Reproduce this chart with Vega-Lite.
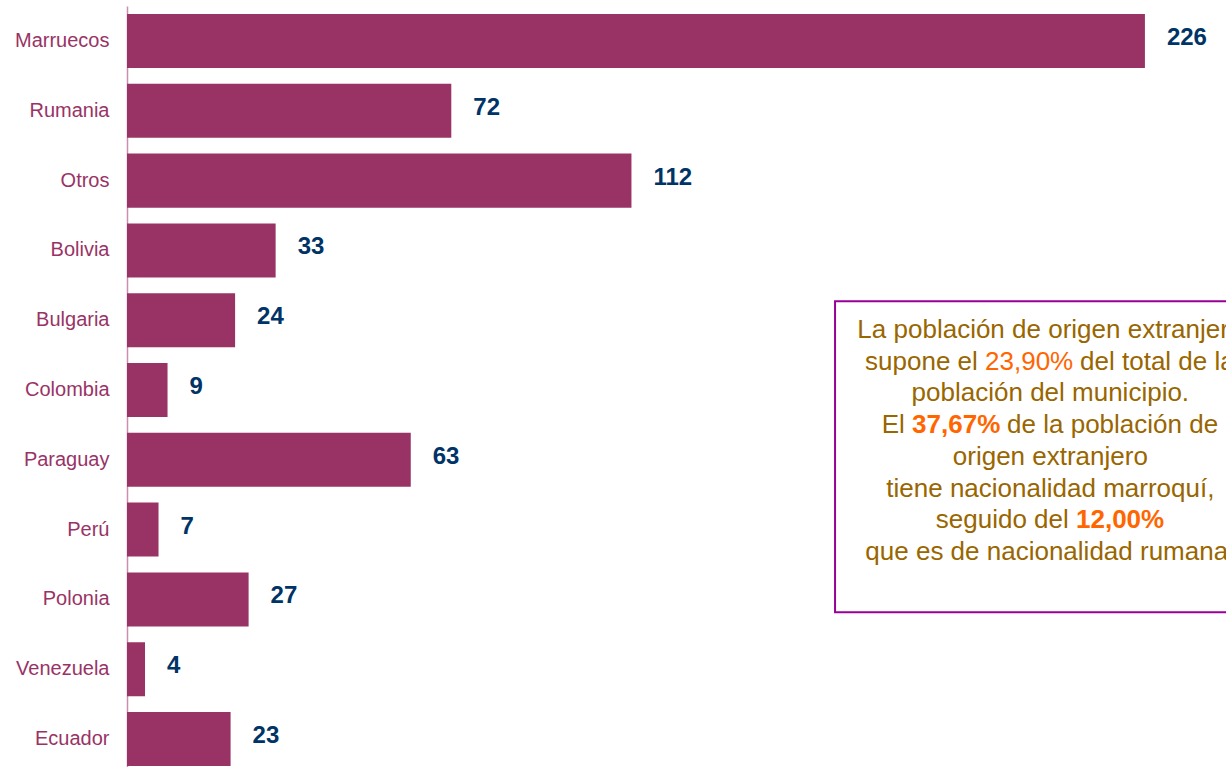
{
  "$schema": "https://vega.github.io/schema/vega-lite/v6.json",
  "autosize": "none",
  "width": 1099,
  "height": 761,
  "padding": {"left": 127, "top": 6, "right": 0, "bottom": 0},
  "background": "white",
  "config": {"view": {"stroke": null}, "font": "Liberation Sans"},
  "datasets": {
    "paises": [
      {"pais": "Marruecos", "valor": 226},
      {"pais": "Rumania", "valor": 72},
      {"pais": "Otros", "valor": 112},
      {"pais": "Bolivia", "valor": 33},
      {"pais": "Bulgaria", "valor": 24},
      {"pais": "Colombia", "valor": 9},
      {"pais": "Paraguay", "valor": 63},
      {"pais": "Perú", "valor": 7},
      {"pais": "Polonia", "valor": 27},
      {"pais": "Venezuela", "valor": 4},
      {"pais": "Ecuador", "valor": 23}
    ],
    "caja": [
      {"x0": 157.2, "x1": 250, "y0": -0.16, "y1": 9.65}
    ],
    "nota": [
      {"linea": 1, "pos": 205, "seg": "c", "txt": "La población de origen extranjero"},
      {"linea": 2, "pos": 188.9, "seg": "r", "txt": "supone el"},
      {"linea": 2, "pos": 190.5, "seg": "o", "txt": "23,90%"},
      {"linea": 2, "pos": 211.6, "seg": "l", "txt": "del total de la"},
      {"linea": 3, "pos": 205, "seg": "c", "txt": "población del municipio."},
      {"linea": 4, "pos": 172.7, "seg": "r", "txt": "El"},
      {"linea": 4, "pos": 174.3, "seg": "b", "txt": "37,67%"},
      {"linea": 4, "pos": 195.4, "seg": "l", "txt": "de la población de"},
      {"linea": 5, "pos": 205, "seg": "c", "txt": "origen extranjero"},
      {"linea": 6, "pos": 205, "seg": "c", "txt": "tiene nacionalidad marroquí,"},
      {"linea": 7, "pos": 209.1, "seg": "r", "txt": "seguido del"},
      {"linea": 7, "pos": 210.7, "seg": "b", "txt": "12,00%"},
      {"linea": 8, "pos": 205, "seg": "c", "txt": "que es de nacionalidad rumana."}
    ]
  },
  "layer": [
    {
      "data": {"name": "paises"},
      "encoding": {
        "y": {
          "field": "pais", "type": "nominal", "sort": null,
          "scale": {"paddingInner": 0.226, "paddingOuter": 0.0645, "align": 0.89},
          "axis": {
            "title": null, "ticks": false, "grid": false,
            "domainColor": "#C98FAE", "domainWidth": 1.5,
            "labelFont": "Liberation Sans", "labelFontSize": 20,
            "labelColor": "#993366", "labelPadding": 18
          }
        },
        "x": {
          "field": "valor", "type": "quantitative",
          "scale": {"domain": [0, 244], "nice": false},
          "axis": null
        }
      },
      "layer": [
        {"mark": {"type": "bar", "color": "#993366"}},
        {
          "mark": {
            "type": "text", "align": "left", "baseline": "middle",
            "dx": 22, "dy": -3, "fontSize": 24, "fontWeight": "bold",
            "color": "#003366", "font": "Liberation Sans"
          },
          "encoding": {"text": {"field": "valor", "type": "quantitative"}}
        }
      ]
    },
    {
      "layer": [
        {
          "data": {"name": "caja"},
          "mark": {"type": "rect", "fill": "white", "stroke": "#990099", "strokeWidth": 2},
          "encoding": {
            "x": {"field": "x0", "type": "quantitative", "scale": {"domain": [0, 244], "nice": false}, "axis": null},
            "x2": {"field": "x1"},
            "y": {"field": "y0", "type": "quantitative", "scale": {"domain": [-9.47, 14.53], "reverse": true, "nice": false, "zero": false}, "axis": null},
            "y2": {"field": "y1"}
          }
        },
        {
          "data": {"name": "nota"},
          "transform": [{"filter": "datum.seg === 'c'"}],
          "mark": {"type": "text", "align": "center", "baseline": "alphabetic", "fontSize": 26, "color": "#996600", "font": "Liberation Sans"},
          "encoding": {
            "x": {"field": "pos", "type": "quantitative", "scale": {"domain": [0, 244], "nice": false}, "axis": null},
            "y": {"field": "linea", "type": "quantitative", "scale": {"domain": [-9.47, 14.53], "reverse": true, "nice": false, "zero": false}, "axis": null},
            "text": {"field": "txt"}
          }
        },
        {
          "data": {"name": "nota"},
          "transform": [{"filter": "datum.seg === 'r'"}],
          "mark": {"type": "text", "align": "right", "baseline": "alphabetic", "fontSize": 26, "color": "#996600", "font": "Liberation Sans"},
          "encoding": {
            "x": {"field": "pos", "type": "quantitative", "scale": {"domain": [0, 244], "nice": false}, "axis": null},
            "y": {"field": "linea", "type": "quantitative", "scale": {"domain": [-9.47, 14.53], "reverse": true, "nice": false, "zero": false}, "axis": null},
            "text": {"field": "txt"}
          }
        },
        {
          "data": {"name": "nota"},
          "transform": [{"filter": "datum.seg === 'l'"}],
          "mark": {"type": "text", "align": "left", "baseline": "alphabetic", "fontSize": 26, "color": "#996600", "font": "Liberation Sans"},
          "encoding": {
            "x": {"field": "pos", "type": "quantitative", "scale": {"domain": [0, 244], "nice": false}, "axis": null},
            "y": {"field": "linea", "type": "quantitative", "scale": {"domain": [-9.47, 14.53], "reverse": true, "nice": false, "zero": false}, "axis": null},
            "text": {"field": "txt"}
          }
        },
        {
          "data": {"name": "nota"},
          "transform": [{"filter": "datum.seg === 'o'"}],
          "mark": {"type": "text", "align": "left", "baseline": "alphabetic", "fontSize": 26, "color": "#FF6600", "font": "Liberation Sans"},
          "encoding": {
            "x": {"field": "pos", "type": "quantitative", "scale": {"domain": [0, 244], "nice": false}, "axis": null},
            "y": {"field": "linea", "type": "quantitative", "scale": {"domain": [-9.47, 14.53], "reverse": true, "nice": false, "zero": false}, "axis": null},
            "text": {"field": "txt"}
          }
        },
        {
          "data": {"name": "nota"},
          "transform": [{"filter": "datum.seg === 'b'"}],
          "mark": {"type": "text", "align": "left", "baseline": "alphabetic", "fontSize": 26, "fontWeight": "bold", "color": "#FF6600", "font": "Liberation Sans"},
          "encoding": {
            "x": {"field": "pos", "type": "quantitative", "scale": {"domain": [0, 244], "nice": false}, "axis": null},
            "y": {"field": "linea", "type": "quantitative", "scale": {"domain": [-9.47, 14.53], "reverse": true, "nice": false, "zero": false}, "axis": null},
            "text": {"field": "txt"}
          }
        }
      ]
    }
  ],
  "resolve": {"scale": {"y": "independent"}}
}
